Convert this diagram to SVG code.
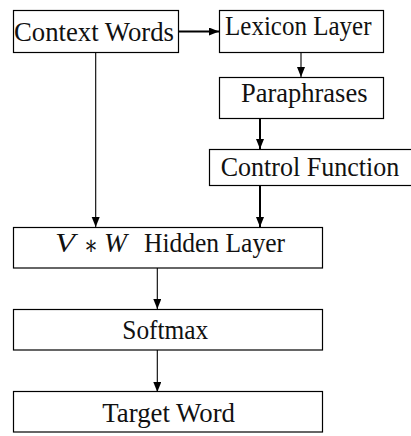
<svg xmlns="http://www.w3.org/2000/svg" width="411" height="436" viewBox="0 0 411 436">
<style>
.box{fill:#fff;stroke:#000;stroke-width:1.2}
.t{font-family:"Liberation Serif","DejaVu Serif",serif;font-size:27px;fill:#111}
.i{font-style:italic}
.thin{stroke:#000;stroke-width:1.1;fill:none}
.thick{stroke:#000;stroke-width:2;fill:none}
</style>
<defs>
<marker id="ah" markerUnits="userSpaceOnUse" markerWidth="12" markerHeight="10" refX="10" refY="4" orient="auto">
<path d="M0,0 L10,4 L0,8 Z" fill="#000"/>
</marker>
</defs>
<rect width="411" height="436" fill="#fff"/>
<g id="connectors">
<line class="thick" x1="178" y1="31.5" x2="219" y2="31.5" marker-end="url(#ah)"/>
<line class="thin" x1="301" y1="52" x2="301" y2="77" marker-end="url(#ah)"/>
<line class="thick" x1="260" y1="118" x2="260" y2="149" marker-end="url(#ah)"/>
<line class="thick" x1="260" y1="185" x2="260" y2="227" marker-end="url(#ah)"/>
<line class="thin" x1="95.7" y1="52" x2="95.7" y2="227" marker-end="url(#ah)"/>
<line class="thin" x1="157.3" y1="268" x2="157.3" y2="309" marker-end="url(#ah)"/>
<line class="thin" x1="157.3" y1="350" x2="157.3" y2="392" marker-end="url(#ah)"/>
</g>
<g id="context">
<rect class="box" x="13.5" y="10.5" width="165" height="42"/>
<text class="t" x="14" y="40.5" textLength="160" lengthAdjust="spacingAndGlyphs">Context Words</text>
</g>
<g id="lexicon">
<rect class="box" x="219.5" y="10.5" width="164" height="42"/>
<text class="t" x="225" y="35.3" textLength="146.5" lengthAdjust="spacingAndGlyphs">Lexicon Layer</text>
</g>
<g id="paraphrases">
<rect class="box" x="219.5" y="77.5" width="164" height="41"/>
<text class="t" x="241" y="102.3" textLength="126.5" lengthAdjust="spacingAndGlyphs">Paraphrases</text>
</g>
<g id="control">
<rect class="box" x="209.5" y="149.5" width="203" height="36"/>
<text class="t" x="220.7" y="175.7" textLength="178.5" lengthAdjust="spacingAndGlyphs">Control Function</text>
</g>
<g id="hidden">
<rect class="box" x="13.5" y="227.5" width="309" height="40.5"/>
<text class="t i" x="55" y="252.3" textLength="20" lengthAdjust="spacingAndGlyphs">V</text>
<text class="t" x="84" y="254" textLength="14" lengthAdjust="spacingAndGlyphs">∗</text>
<text class="t i" x="104" y="252.3" textLength="23" lengthAdjust="spacingAndGlyphs">W</text>
<text class="t" x="144" y="252.3" textLength="141" lengthAdjust="spacingAndGlyphs">Hidden Layer</text>
</g>
<g id="softmax">
<rect class="box" x="13.5" y="309.5" width="309" height="40.5"/>
<text class="t" x="122.3" y="339" textLength="86" lengthAdjust="spacingAndGlyphs">Softmax</text>
</g>
<g id="target">
<rect class="box" x="13.5" y="391.5" width="309" height="40.5"/>
<text class="t" x="102.3" y="422" textLength="132.7" lengthAdjust="spacingAndGlyphs">Target Word</text>
</g>
</svg>
